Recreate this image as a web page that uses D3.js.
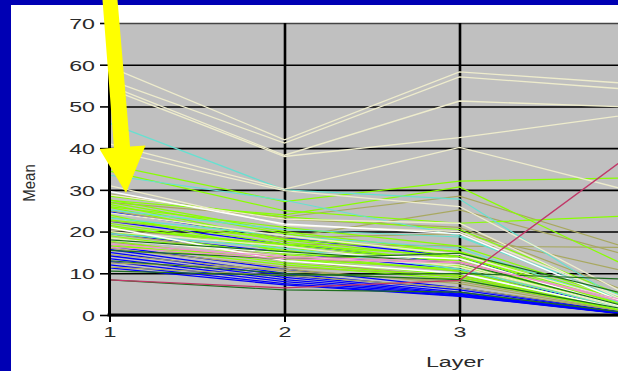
<!DOCTYPE html>
<html><head><meta charset="utf-8">
<script src="https://cdn.jsdelivr.net/npm/d3@7/dist/d3.min.js"></script>
<style>html,body{margin:0;padding:0;background:#0000b4;overflow:hidden}</style>
</head><body>
<svg id="c" width="618" height="371"></svg>
<script>
const layers = [1, 2, 3, 4];
const xTicks = [1, 2, 3];
const yTicks = [0, 10, 20, 30, 40, 50, 60, 70];

// Mean per layer, one row per profile, grouped by colour
const creamLines = [
  [59.5, 42.0, 58.3, 55.4],
  [56.3, 41.2, 57.1, 54.0],
  [55.0, 38.3, 51.3, 49.8],
  [54.2, 38.0, 42.5, 48.2],
  [41.0, 30.2, 40.2, 29.5],
  [39.5, 29.8, 26.0, 4.0],
  [31.0, 21.5, 20.0, 3.0],
  [18.5, 14.0, 12.0, 1.0],
  [20.0, 16.5, 11.5, 1.5],
  [24.5, 19.0, 14.5, 2.5],
  [28.8, 23.0, 22.0, 2.2]
];
const whiteLines = [
  [29.6, 21.8, 19.5, 2.0],
  [21.0, 13.0, 10.0, 0.8],
  [18.0, 15.0, 13.5, 1.2]
];
const cyanLines = [
  [46.0, 30.0, 27.8, 1.5],
  [33.5, 27.5, 19.0, 2.5],
  [25.2, 20.5, 18.7, 3.5],
  [23.3, 19.0, 16.0, 1.8],
  [19.5, 16.0, 11.0, 1.0]
];
const limeLines = [
  [36.0, 27.2, 32.1, 32.9],
  [34.5, 25.0, 22.0, 23.8],
  [27.5, 24.0, 30.7, 10.9],
  [27.6, 20.0, 15.0, 2.0],
  [27.0, 19.5, 14.0, 1.5],
  [26.5, 18.0, 13.5, 1.2],
  [25.8, 17.5, 12.5, 0.8],
  [22.0, 16.0, 13.0, 1.0],
  [21.5, 15.5, 11.5, 1.5],
  [21.0, 16.8, 12.8, 2.0],
  [20.0, 14.5, 10.5, 0.5],
  [19.0, 13.5, 9.5, 0.7],
  [18.5, 14.8, 12.0, 1.0],
  [17.8, 12.5, 9.0, 0.5],
  [17.0, 12.0, 8.5, 0.6],
  [16.5, 13.5, 11.0, 1.0],
  [23.5, 17.0, 14.0, 2.5],
  [24.0, 15.0, 11.8, 1.8],
  [26.0, 21.0, 16.5, 3.0],
  [28.5, 23.5, 20.5, 3.5],
  [22.8, 18.2, 15.2, 2.8]
];
const oliveLines = [
  [27.0, 23.5, 28.5, 15.6],
  [25.0, 18.5, 25.2, 13.9],
  [22.5, 18.5, 19.5, 10.0],
  [20.5, 17.0, 16.5, 16.2],
  [19.5, 14.0, 10.5, 1.5],
  [16.0, 11.5, 9.5, 1.0],
  [14.5, 10.5, 8.0, 0.8],
  [12.5, 11.0, 7.5, 0.5],
  [11.5, 9.5, 6.5, 0.6],
  [17.5, 13.0, 9.0, 1.2],
  [29.0, 23.0, 21.0, 5.0]
];
const darkGreenLines = [
  [15.5, 13.5, 14.8, 4.5],
  [10.5, 9.5, 10.0, 8.5],
  [8.4, 6.0, 5.5, 0.3],
  [13.0, 10.0, 8.5, 1.0],
  [18.0, 15.2, 12.5, 1.5]
];
const pinkLines = [
  [16.3, 13.5, 12.5, 3.0],
  [17.0, 14.0, 12.8, 2.5]
];
const blueLines = [
  [24.7, 18.5, 14.0, 1.0],
  [22.5, 17.0, 12.5, 0.8],
  [19.5, 15.0, 11.0, 0.5],
  [16.5, 11.0, 6.5, 0.3],
  [15.7, 10.0, 6.0, 0.2],
  [15.0, 9.5, 5.5, 0.1],
  [14.2, 9.0, 5.2, 0.0],
  [13.5, 8.5, 5.0, 0.0],
  [12.8, 8.0, 4.8, 0.0],
  [12.0, 7.5, 4.6, 0.0],
  [11.3, 7.2, 4.5, 0.0]
];
const maroonLines = [
  [8.4, 6.5, 8.3, 39.2]
];

const groups = [
  {rows: blueLines, color: "#0000ff", w: 1.3},
  {rows: oliveLines, color: "#a8a860", w: 1.2},
  {rows: limeLines, color: "#88ff00", w: 1.2},
  {rows: cyanLines, color: "#66e0d0", w: 1.2},
  {rows: creamLines, color: "#eeeccc", w: 1.3},
  {rows: whiteLines, color: "#ffffff", w: 1.5},
  {rows: darkGreenLines, color: "#1f6e1f", w: 1.2},
  {rows: pinkLines, color: "#f090d0", w: 1.2},
  {rows: maroonLines, color: "#c03868", w: 1.3}
];

const W = 618, H = 371;
const plotL = 109, plotT = 23, plotB = 315, plotR = 618;
const x = d3.scaleLinear().domain([1, 4]).range([109.5, 634.5]);
const y = d3.scaleLinear().domain([0, 70]).range([plotB, plotT]);

const svg = d3.select("#c");
svg.append("rect").attr("width", W).attr("height", H).attr("fill", "#0000b4");
svg.append("rect").attr("x", 11).attr("y", 5).attr("width", W - 11).attr("height", H - 5).attr("fill", "#ffffff");
svg.append("rect").attr("x", plotL).attr("y", plotT).attr("width", plotR - plotL).attr("height", plotB - plotT).attr("fill", "#c0c0c0");

// horizontal grid lines
const grid = svg.append("g").attr("transform", `translate(${plotL},0)`)
  .call(d3.axisLeft(y).tickValues(yTicks).tickSize(-(plotR - plotL)).tickFormat(""));
grid.select(".domain").remove();
grid.selectAll("line").attr("stroke", "#000").attr("stroke-width", 1.6);
grid.selectAll(".tick").filter(d => d === 70).select("line").attr("stroke", "#444");

// vertical grid lines
const vgrid = svg.append("g").attr("transform", `translate(0,${plotB})`)
  .call(d3.axisBottom(x).tickValues([2, 3]).tickSize(-(plotB - plotT)).tickFormat(""));
vgrid.select(".domain").remove();
vgrid.selectAll("line").attr("stroke", "#000").attr("stroke-width", 2.6);

// data lines
const defs = svg.append("defs");
defs.append("clipPath").attr("id", "clip").append("rect")
  .attr("x", plotL).attr("y", plotT).attr("width", plotR - plotL).attr("height", plotB - plotT);
const line = d3.line().x((d, i) => x(layers[i])).y(d => y(d));
const lg = svg.append("g").attr("clip-path", "url(#clip)");
groups.forEach(g => {
  lg.selectAll(null).data(g.rows).enter().append("path")
    .attr("d", line)
    .attr("fill", "none")
    .attr("stroke", g.color)
    .attr("stroke-width", g.w);
});

// axes
const font = "'Liberation Sans', Arial, sans-serif";
const yAxis = svg.append("g").attr("transform", `translate(${plotL},0)`)
  .call(d3.axisLeft(y).tickValues(yTicks).tickSize(9).tickPadding(0).tickSizeOuter(0));
yAxis.select(".domain").attr("stroke", "#000").attr("stroke-width", 3);
yAxis.selectAll(".tick line").attr("stroke", "#000").attr("stroke-width", 1.6);
yAxis.selectAll(".tick text")
  .attr("x", 0).attr("dy", "0.36em")
  .attr("transform", "translate(-14,0) scale(1.55,1)")
  .attr("font-family", font).attr("font-size", 15).attr("fill", "#2a2a2a");

const xAxis = svg.append("g").attr("transform", `translate(0,${plotB})`)
  .call(d3.axisBottom(x).tickValues(xTicks).tickFormat(d3.format("d")).tickSize(7).tickPadding(2).tickSizeOuter(0));
xAxis.select(".domain").remove();
xAxis.selectAll(".tick line").attr("stroke", "#000").attr("stroke-width", 2);
xAxis.selectAll(".tick text")
  .attr("y", 0).attr("dy", 0)
  .attr("transform", "translate(0,22) scale(1.55,1)")
  .attr("font-family", font).attr("font-size", 15).attr("fill", "#2a2a2a");
svg.append("line").attr("x1", plotL - 1.5).attr("x2", plotR).attr("y1", plotB).attr("y2", plotB)
  .attr("stroke", "#000").attr("stroke-width", 3);

svg.append("text").attr("transform", "translate(455,367) scale(1.55,1)")
  .attr("text-anchor", "middle").attr("font-family", font).attr("font-size", 15)
  .attr("fill", "#2a2a2a").text("Layer");
svg.append("text").attr("transform", "translate(35,183) rotate(-90) scale(1.25,1.3)")
  .attr("text-anchor", "middle").attr("font-family", font).attr("font-size", 12)
  .attr("fill", "#2a2a2a").text("Mean");

// yellow arrow
svg.append("polygon")
  .attr("points", "102.5,0 117.5,0 130,146.5 145.5,145.5 126,193 99.5,149 114,147.8")
  .attr("fill", "#ffff00");
</script>
</body></html>
